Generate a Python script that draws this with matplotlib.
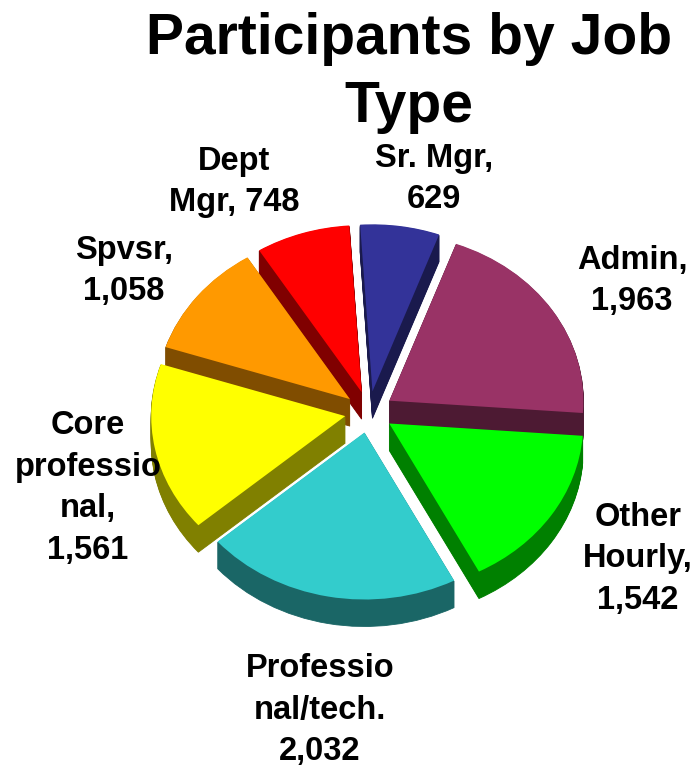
import matplotlib
matplotlib.use("Agg")
import matplotlib.pyplot as plt
from matplotlib.patches import Wedge
from matplotlib.colors import to_rgb

W, H = 696, 768
labels = ["Sr. Mgr,\n629", "Admin,\n1,963", "Other\nHourly,\n1,542", "Professio\nnal/tech.\n2,032",
          "Core\nprofessio\nnal,\n1,561", "Spvsr,\n1,058", "Dept\nMgr, 748"]
values = [629, 1963, 1542, 2032, 1561, 1058, 748]
colors = ["#333399", "#993366", "#00ff00", "#33cccc", "#ffff00", "#ff9900", "#ff0000"]
label_px = [(434, 179), (632, 281), (638, 559), (320, 710), (88, 488), (124, 271), (234, 182)]
draw_order = [0, 6, 1, 5, 4, 2, 3]

CX, CY, RX, RY, DEPTH = 369, 412, 194, 167, 27

plt.rcParams["font.family"] = ["Liberation Sans", "DejaVu Sans"]
fig = plt.figure(figsize=(W / 100, H / 100), dpi=100)
ax = fig.add_axes([0, 0, 1, 1])
wedges, _ = ax.pie(values, colors=colors, explode=[0.125] * len(values), startangle=93.65,
                   counterclock=False, radius=1.0, wedgeprops={"linewidth": 0})
ax.set_aspect("auto")
ax.set_xlim(-CX / RX, (W - CX) / RX)
ax.set_ylim((CY - H) / RY, CY / RY)
ax.axis("off")

for rank, i in enumerate(draw_order):
    w = wedges[i]
    base = 10 + rank * 2
    r, g, b = to_rgb(colors[i])
    dark = (r * 0.5, g * 0.5, b * 0.5)
    for d in range(1, DEPTH + 1):
        cx, cy = w.center
        ax.add_patch(Wedge((cx, cy - d / RY), w.r, w.theta1, w.theta2, fc=dark, ec=dark,
                           lw=0.6, zorder=base))
    w.set_zorder(base + 1)

for text, (px, py) in zip(labels, label_px):
    fig.text(px / W, 1 - py / H, text, ha="center", va="center", fontsize=23.5,
             fontweight="bold", color="black", linespacing=1.45)
fig.text(409 / W, 1 - 73 / H, "Participants by Job\nType", ha="center", va="center",
         fontsize=41, fontweight="bold", color="black", linespacing=1.33)
fig.savefig("out.png", dpi=100, facecolor="white")
